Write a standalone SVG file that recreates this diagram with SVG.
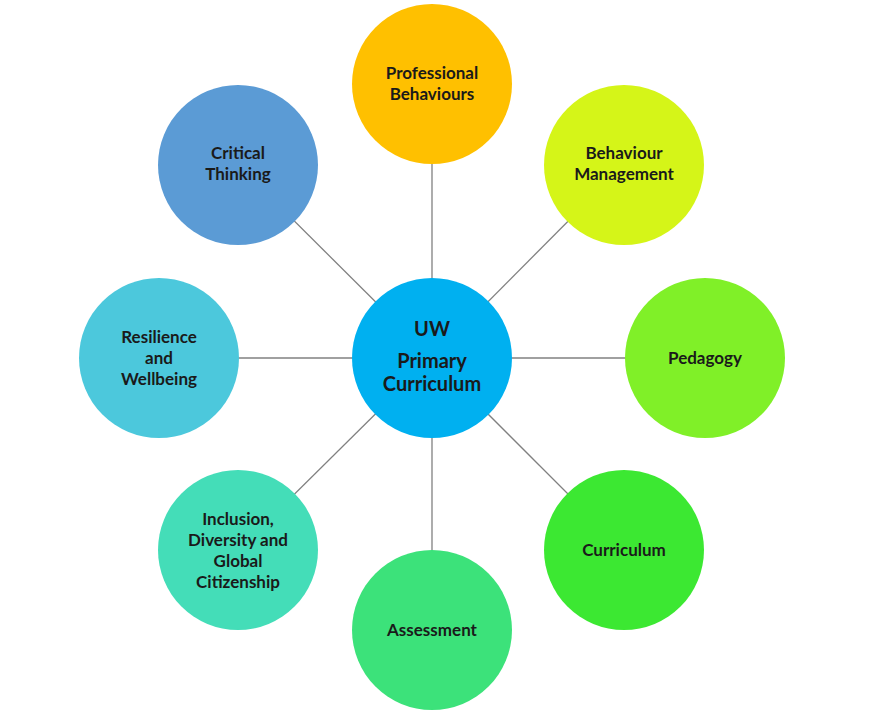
<svg xmlns="http://www.w3.org/2000/svg" width="880" height="728" viewBox="0 0 880 728">
<style>
.n{stroke:none}
.t{font-family:Lato,"Open Sans",sans-serif;font-weight:bold;font-size:17px;fill:#1a1a1a;text-anchor:middle}
.c{font-size:20px}
#links line{stroke:#808080;stroke-width:1.3}
</style>
<rect width="880" height="728" fill="#fff"/>
<g id="links">
<line x1="432" y1="358" x2="432" y2="84"/>
<line x1="432" y1="358" x2="624" y2="165"/>
<line x1="432" y1="358" x2="705" y2="358"/>
<line x1="432" y1="358" x2="624" y2="550"/>
<line x1="432" y1="358" x2="432" y2="630"/>
<line x1="432" y1="358" x2="238" y2="550"/>
<line x1="432" y1="358" x2="159" y2="358"/>
<line x1="432" y1="358" x2="238" y2="165"/>
</g>
<g id="center"><circle class="n" cx="432" cy="358" r="80" fill="#00B0F0"/>
<text class="t c" x="432" y="336">UW</text><text class="t c" x="432" y="368">Primary</text><text class="t c" x="432" y="391">Curriculum</text></g>
<g id="prof"><circle class="n" cx="432" cy="84" r="80" fill="#FFC000"/>
<text class="t" x="432" y="79">Professional</text><text class="t" x="432" y="100">Behaviours</text></g>
<g id="beh"><circle class="n" cx="624" cy="165" r="80" fill="#D5F518"/>
<text class="t" x="624" y="159">Behaviour</text><text class="t" x="624" y="180">Management</text></g>
<g id="ped"><circle class="n" cx="705" cy="358" r="80" fill="#80F028"/>
<text class="t" x="705" y="364">Pedagogy</text></g>
<g id="cur"><circle class="n" cx="624" cy="550" r="80" fill="#3CE832"/>
<text class="t" x="624" y="556">Curriculum</text></g>
<g id="ass"><circle class="n" cx="432" cy="630" r="80" fill="#3CE27A"/>
<text class="t" x="432" y="636">Assessment</text></g>
<g id="inc"><circle class="n" cx="238" cy="550" r="80" fill="#44DDB8"/>
<text class="t" x="238" y="525">Inclusion,</text><text class="t" x="238" y="546">Diversity and</text><text class="t" x="238" y="567">Global</text><text class="t" x="238" y="588">Citizenship</text></g>
<g id="res"><circle class="n" cx="159" cy="358" r="80" fill="#4CC8DC"/>
<text class="t" x="159" y="343">Resilience</text><text class="t" x="159" y="364">and</text><text class="t" x="159" y="385">Wellbeing</text></g>
<g id="crit"><circle class="n" cx="238" cy="165" r="80" fill="#5B9BD5"/>
<text class="t" x="238" y="159">Critical</text><text class="t" x="238" y="180">Thinking</text></g>
</svg>
